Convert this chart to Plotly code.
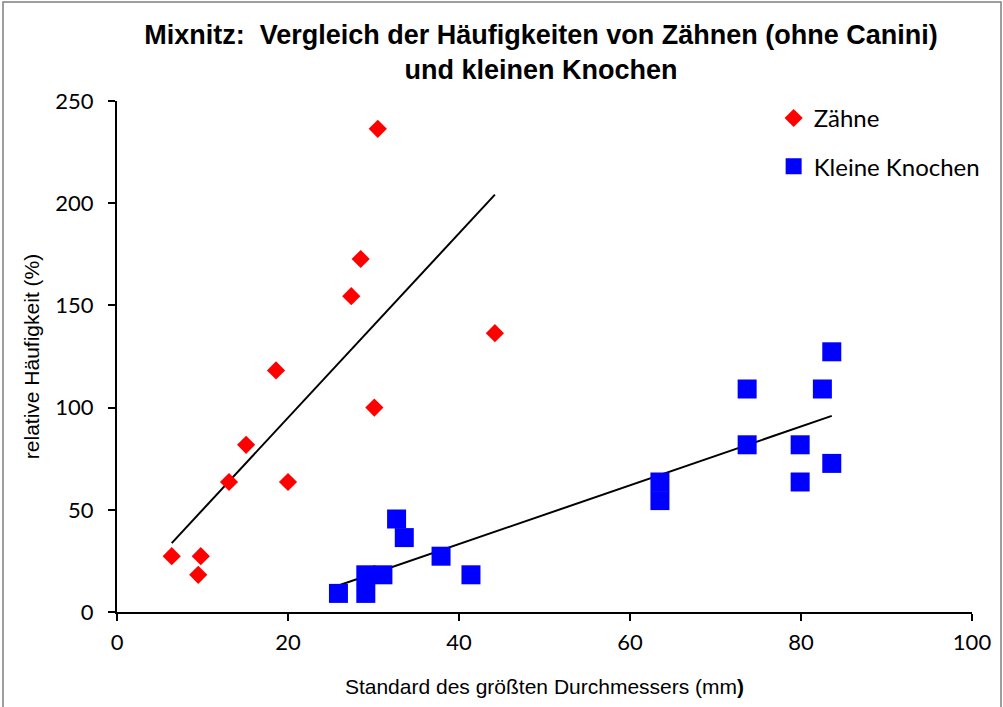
import numpy as np
import plotly.graph_objects as go

# Zähne (teeth)
teeth_x = [6.4, 9.8, 9.5, 13.1, 15.1, 18.6, 20.0, 27.4, 28.5, 30.1, 30.5, 44.2]
teeth_y = [27.3, 27.3, 18.2, 63.6, 81.8, 118.2, 63.6, 154.5, 172.7, 100.0, 236.4, 136.4]

# Kleine Knochen (small bones)
bones_x = [25.9, 29.1, 29.1, 31.1, 32.7, 33.6, 37.9, 41.4, 63.5, 63.5,
           73.7, 73.7, 79.9, 79.9, 82.5, 83.6, 83.6]
bones_y = [9.1, 9.1, 18.2, 18.2, 45.5, 36.4, 27.3, 18.2, 63.6, 54.5,
           109.1, 81.8, 81.8, 63.6, 109.1, 127.3, 72.7]

x_ticks = [0, 20, 40, 60, 80, 100]
y_ticks = [0, 50, 100, 150, 200, 250]


def trend(xs, ys):
    k, d = np.polyfit(xs, ys, 1)
    xr = np.array([min(xs), max(xs)])
    return xr, k * xr + d


fig = go.Figure()

tx, ty = trend(teeth_x, teeth_y)
bx, by = trend(bones_x, bones_y)

fig.add_trace(go.Scatter(x=tx, y=ty, mode="lines", line=dict(color="black", width=2),
                         showlegend=False, hoverinfo="skip"))
fig.add_trace(go.Scatter(x=bx, y=by, mode="lines", line=dict(color="black", width=2),
                         showlegend=False, hoverinfo="skip"))

fig.add_trace(go.Scatter(x=teeth_x, y=teeth_y, mode="markers", name="Zähne",
                         legendgroup="a",
                         marker=dict(symbol="diamond", size=14, color="#ff0000",
                                     line=dict(width=0))))
fig.add_trace(go.Scatter(x=bones_x, y=bones_y, mode="markers", name="Kleine Knochen",
                         legendgroup="b",
                         marker=dict(symbol="square", size=19, color="#0000ff",
                                     line=dict(width=0))))

TICKFONT = "Lato, Open Sans, sans-serif"
ARIAL = "Liberation Sans, Arial, sans-serif"

fig.update_layout(
    width=1003, height=707,
    margin=dict(l=117, r=31, t=101, b=95),
    paper_bgcolor="white", plot_bgcolor="white",
    font=dict(family=ARIAL, color="black"),
    title=dict(
        text="<b>Mixnitz:  Vergleich der Häufigkeiten von Zähnen (ohne Canini)<br>und kleinen Knochen</b>",
        x=(541 / 1003), xanchor="center", y=1 - 44 / 707, yanchor="top",
        font=dict(family=ARIAL, size=27, color="black"),
    ),
    xaxis=dict(
        range=[0, 100], tickvals=x_ticks, ticktext=[str(v) for v in x_ticks],
        showgrid=False, zeroline=False, showline=True, linecolor="black", linewidth=2,
        ticks="outside", ticklen=7, tickwidth=2, tickcolor="black",
        tickfont=dict(family=TICKFONT, size=22), ticklabelstandoff=3,
        title=dict(text="Standard des größten Durchmessers (mm<b>)</b>",
                   font=dict(family=ARIAL, size=21), standoff=25),
    ),
    yaxis=dict(
        range=[0, 250], tickvals=y_ticks, ticktext=[str(v) for v in y_ticks],
        showgrid=False, zeroline=False, showline=True, linecolor="black", linewidth=2,
        ticks="outside", ticklen=7, tickwidth=2, tickcolor="black",
        tickfont=dict(family=TICKFONT, size=22), ticklabelstandoff=10,
        title=dict(text="relative Häufigkeit (%)", font=dict(family=ARIAL, size=21),
                   standoff=10),
    ),
    legend=dict(
        x=0.768, xanchor="left", y=1.01, yanchor="top",
        font=dict(family=TICKFONT, size=24, color="black"),
        traceorder="grouped", tracegroupgap=14, bgcolor="rgba(0,0,0,0)",
    ),
    showlegend=True,
)

# thin outer chart border
fig.add_shape(type="rect", xref="paper", yref="paper",
              x0=(3 - 117) / 855, x1=(1001 - 117) / 855,
              y0=(612 - 720) / 511, y1=(612 - 2) / 511,
              line=dict(color="#7f7f7f", width=1.5), fillcolor="rgba(0,0,0,0)",
              layer="below")

fig.write_html("out.html", config={"displayModeBar": False},
               post_script="document.body.style.margin='0px';")
